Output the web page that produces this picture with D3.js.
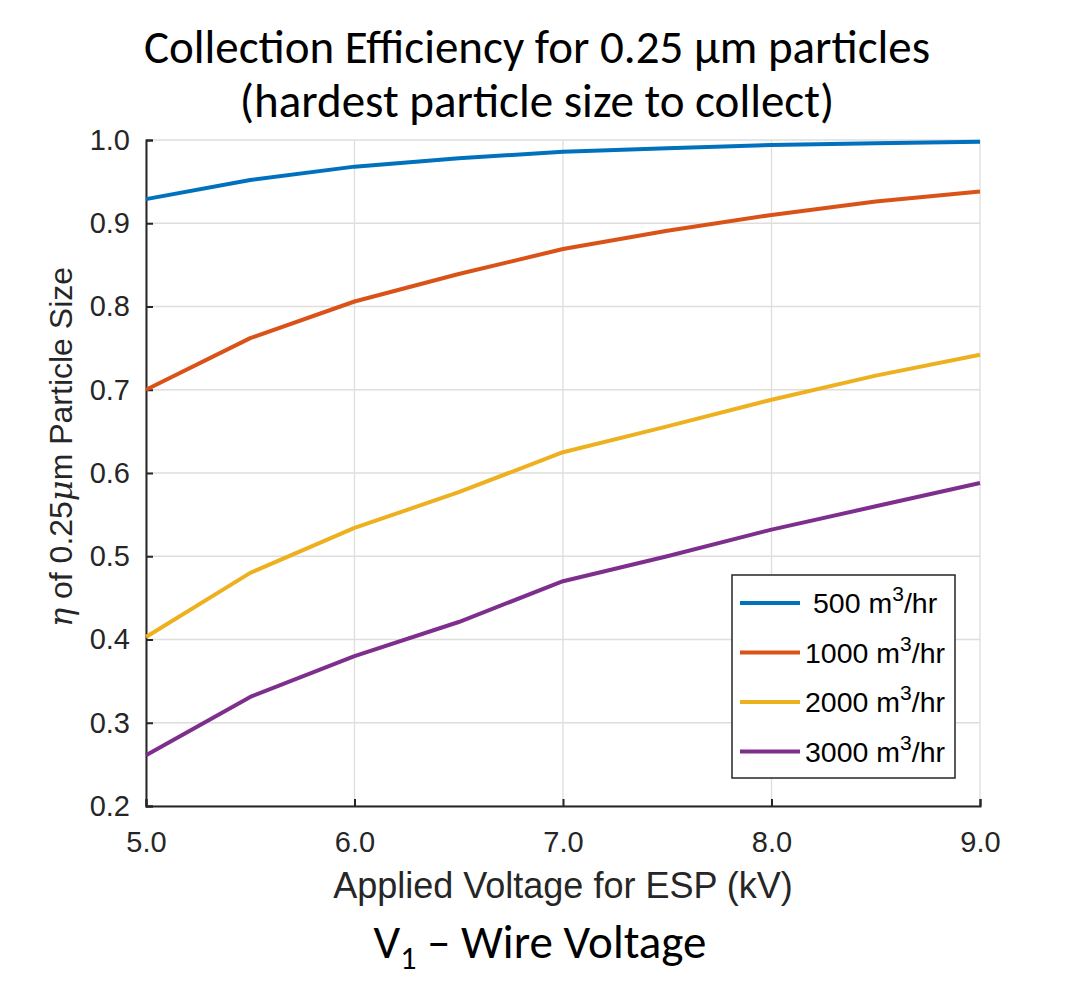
<!DOCTYPE html>
<html>
<head>
<meta charset="utf-8">
<script src="https://cdn.jsdelivr.net/npm/d3@7"></script>
<style>
  body { margin: 0; background: #fff; }
  svg text { font-family: "Liberation Sans", Arial, sans-serif; }
</style>
</head>
<body>
<div id="chart"></div>
<script>
// data
var voltages = [5.0, 5.5, 6.0, 6.5, 7.0, 7.5, 8.0, 8.5, 9.0];
var eff500  = [0.929, 0.952, 0.968, 0.978, 0.986, 0.990, 0.994, 0.996, 0.998];
var eff1000 = [0.700, 0.762, 0.806, 0.839, 0.869, 0.891, 0.910, 0.926, 0.938];
var eff2000 = [0.403, 0.480, 0.534, 0.577, 0.625, 0.656, 0.688, 0.717, 0.742];
var eff3000 = [0.261, 0.331, 0.380, 0.421, 0.470, 0.500, 0.532, 0.560, 0.588];
var seriesNames = ["500", "1000", "2000", "3000"];
var xTicks = [5, 6, 7, 8, 9];
var yTicks = [0.2, 0.3, 0.4, 0.5, 0.6, 0.7, 0.8, 0.9, 1.0];

var colors = ["#0072BD", "#D95319", "#EDB120", "#7E2F8E"];
var allSeries = [eff500, eff1000, eff2000, eff3000];

var W = 1071, H = 985;
var margin = {top: 140, right: 91, bottom: 179, left: 146};
var width = W - margin.left - margin.right,
    height = H - margin.top - margin.bottom;
var slideFont = "Carlito, Lato, 'Open Sans', sans-serif";

var svg = d3.select("#chart").append("svg")
    .attr("width", W)
    .attr("height", H);

// titles (slide text)
svg.append("text")
    .attr("x", 537).attr("y", 63)
    .attr("text-anchor", "middle")
    .style("font-family", slideFont)
    .style("font-size", "47px")
    .text("Collection Efficiency for 0.25 µm particles");
svg.append("text")
    .attr("x", 537).attr("y", 117)
    .attr("text-anchor", "middle")
    .style("font-family", slideFont)
    .style("font-size", "47px")
    .text("(hardest particle size to collect)");

var g = svg.append("g")
    .attr("transform", "translate(" + margin.left + "," + margin.top + ")");

var x = d3.scaleLinear().domain([5, 9]).range([0, width]);
var y = d3.scaleLinear().domain([0.2, 1.0]).range([height, 0]);

// grid
g.append("g").selectAll("line.gx")
  .data(xTicks).enter().append("line")
    .attr("x1", function(d){ return x(d); })
    .attr("x2", function(d){ return x(d); })
    .attr("y1", 0).attr("y2", height)
    .attr("stroke", "#dedede").attr("stroke-width", 1.3);
g.append("g").selectAll("line.gy")
  .data(yTicks).enter().append("line")
    .attr("x1", 0).attr("x2", width)
    .attr("y1", function(d){ return y(d); })
    .attr("y2", function(d){ return y(d); })
    .attr("stroke", "#dedede").attr("stroke-width", 1.3);

// axes, ticks point inward like matlab
var xAxis = g.append("g")
    .attr("transform", "translate(0," + height + ")")
    .call(d3.axisBottom(x).tickValues(xTicks).tickSize(-7).tickPadding(25)
      .tickFormat(d3.format(".1f")));
var yAxis = g.append("g")
    .call(d3.axisLeft(y).tickValues(yTicks).tickSize(-7).tickPadding(16)
      .tickFormat(d3.format(".1f")));
[xAxis, yAxis].forEach(function(a){
  a.select(".domain").attr("stroke", "#262626").attr("stroke-width", 2);
  a.selectAll(".tick line").attr("stroke", "#262626").attr("stroke-width", 2);
  a.selectAll(".tick text")
    .style("font-family", "'Liberation Sans', Arial, sans-serif")
    .style("font-size", "29px")
    .attr("fill", "#262626");
});
xAxis.selectAll(".tick text").attr("dy", "0.71em");

// lines
var line = d3.line()
    .x(function(d, i){ return x(voltages[i]); })
    .y(function(d){ return y(d); });

g.selectAll("path.series")
  .data(allSeries).enter().append("path")
    .attr("class", "series")
    .attr("d", line)
    .attr("fill", "none")
    .attr("stroke", function(d, i){ return colors[i]; })
    .attr("stroke-width", 4)
    .attr("stroke-linejoin", "round");

// axis labels
svg.append("text")
    .attr("x", margin.left + width / 2).attr("y", 898)
    .attr("text-anchor", "middle")
    .style("font-size", "36px")
    .attr("fill", "#262626")
    .text("Applied Voltage for ESP (kV)");

var yl = svg.append("text")
    .attr("transform", "translate(72," + 447 + ") rotate(-90)")
    .attr("text-anchor", "middle")
    .style("font-size", "32px")
    .attr("fill", "#262626");
yl.append("tspan").style("font-family", "'DejaVu Serif', serif").style("font-style", "italic").text("η");
yl.append("tspan").text(" of 0.25");
yl.append("tspan").style("font-family", "'DejaVu Serif', serif").style("font-style", "italic").text("μ");
yl.append("tspan").text("m Particle Size");

// slide subtitle under the chart
var sub = svg.append("text")
    .attr("x", 540).attr("y", 958)
    .attr("text-anchor", "middle")
    .style("font-family", slideFont)
    .style("font-size", "47px")
    .attr("fill", "#000");
sub.append("tspan").text("V");
sub.append("tspan").attr("dy", 11).style("font-size", "32px").text("1");
sub.append("tspan").attr("dy", -11).text(" – Wire Voltage");

// legend
var leg = svg.append("g").attr("transform", "translate(732,575)");
leg.append("rect")
    .attr("width", 223).attr("height", 203)
    .attr("fill", "#fff")
    .attr("stroke", "#262626").attr("stroke-width", 1.5);
var items = leg.selectAll("g.item")
  .data(seriesNames).enter().append("g")
    .attr("transform", function(d, i){ return "translate(0," + (28 + i * 49.5) + ")"; });
items.append("line")
    .attr("x1", 8).attr("x2", 68)
    .attr("stroke", function(d, i){ return colors[i]; })
    .attr("stroke-width", 4);
var lt = items.append("text")
    .attr("x", function(d){ return d.length == 3 ? 81 : 73; })
    .attr("y", 10)
    .style("font-size", "28.5px")
    .attr("fill", "#000");
lt.append("tspan").text(function(d){ return d + " m"; });
lt.append("tspan").attr("dy", -12).style("font-size", "21px").text("3");
lt.append("tspan").attr("dy", 12).text("/hr");
</script>
</body>
</html>
